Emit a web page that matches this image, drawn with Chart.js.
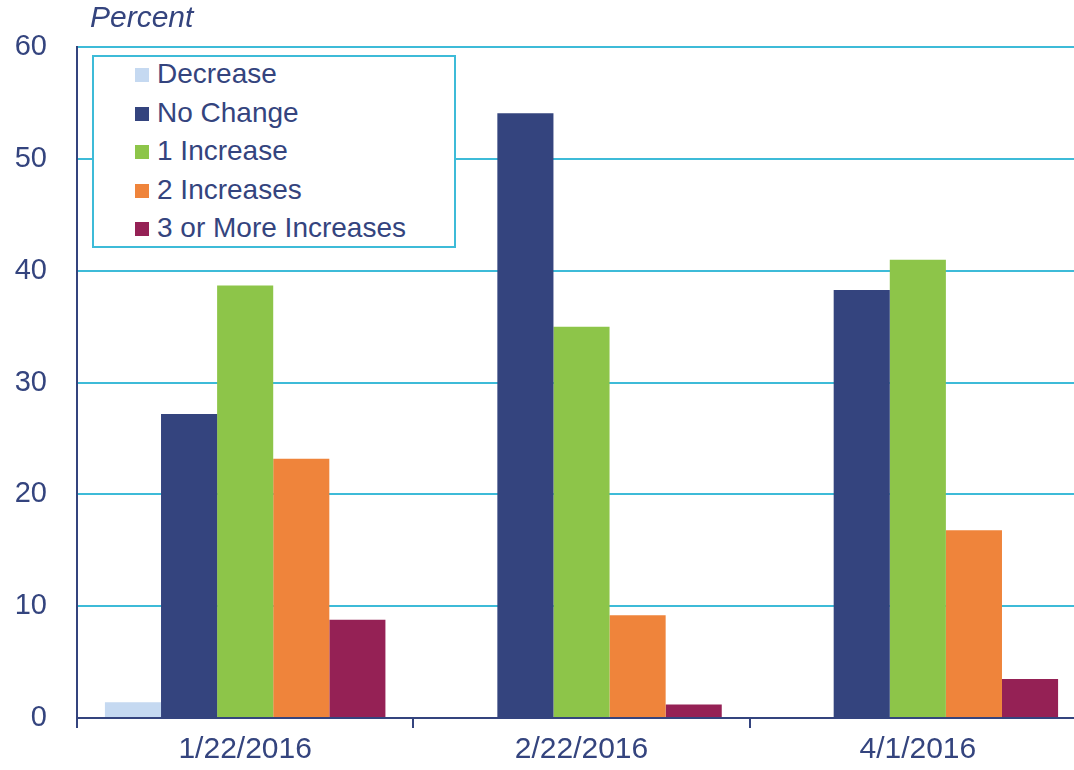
<!DOCTYPE html>
<html>
<head>
<meta charset="utf-8">
<script src="https://cdn.jsdelivr.net/npm/chart.js@4"></script>
<style>
  body { margin: 0; overflow: hidden; background: #fff; font-family: "Liberation Sans", Arial, sans-serif; }
  #wrap { position: relative; width: 1086px; height: 770px; }
  #title { position: absolute; left: 90px; top: 0px; font-size: 30px; font-style: italic; color: #34447e; line-height: 34px; }
  #legend { position: absolute; left: 92px; top: 55px; width: 364px; height: 193px; border: 2px solid #3dbbd8; background: #fff; box-sizing: border-box; }
  .item { position: absolute; left: 41px; font-size: 28px; color: #34447e; line-height: 32px; height: 32px; white-space: nowrap; }
  .item span.sw { display: inline-block; width: 14px; height: 14px; margin-right: 8px; vertical-align: 1px; }
</style>
</head>
<body>
<div id="wrap">
  <canvas id="myBarChart" width="1086" height="770"></canvas>
  <div id="title">Percent</div>
  <div id="legend"></div>
</div>
<script>
const categories = ["1/22/2016", "2/22/2016", "4/1/2016"];
const seriesNames = ["Decrease", "No Change", "1 Increase", "2 Increases", "3 or More Increases"];
const decrease = [1.4, 0, 0];
const noChange = [27.2, 54.1, 38.3];
const oneIncrease = [38.7, 35.0, 41.0];
const twoIncreases = [23.2, 9.2, 16.8];
const threeOrMore = [8.8, 1.2, 3.5];
const yTicks = [0, 10, 20, 30, 40, 50, 60];

const colors = ["#c5d9f1", "#34447e", "#8dc549", "#ef843b", "#952155"];
const seriesValues = [decrease, noChange, oneIncrease, twoIncreases, threeOrMore];

const navy = "#34447e";
const cyan = "#3dbbd8";

// legend as html so it can sit inside the plot area
const legendBox = document.getElementById("legend");
seriesNames.forEach((name, i) => {
  const d = document.createElement("div");
  d.className = "item";
  d.style.top = (1 + i * 38.5) + "px";
  d.innerHTML = '<span class="sw" style="background:' + colors[i] + '"></span>' + name;
  legendBox.appendChild(d);
});

const ctx1 = document.getElementById("myBarChart");

new Chart(ctx1, {
  type: "bar",
  data: {
    labels: categories,
    datasets: seriesNames.map((name, i) => ({
      label: name,
      data: seriesValues[i],
      backgroundColor: colors[i],
      borderWidth: 0,
      barPercentage: 1,
      categoryPercentage: 0.834,
    })),
  },
  options: {
    responsive: false,
    animation: false,
    layout: { padding: { top: 42, right: 0, left: 0, bottom: 0 } },
    plugins: {
      legend: { display: false },
      tooltip: { enabled: false },
    },
    scales: {
      x: {
        afterFit: (scale) => { scale.height = 52; },
        grid: {
          offset: true,
          drawOnChartArea: false,
          drawTicks: true,
          tickLength: 10,
          color: navy,
          lineWidth: 2,
        },
        border: { color: navy, width: 2 },
        ticks: {
          color: navy,
          padding: 4,
          font: { size: 30, family: "Liberation Sans, Arial" },
        },
      },
      y: {
        min: 0,
        max: 60,
        afterFit: (scale) => { scale.width = 77; },
        afterBuildTicks: (scale) => { scale.ticks = yTicks.map((v) => ({ value: v })); },
        grid: {
          color: (c) => (c.tick && c.tick.value === 0 ? "rgba(0,0,0,0)" : cyan),
          lineWidth: 2,
          drawTicks: false,
        },
        border: { color: navy, width: 2 },
        ticks: {
          color: navy,
          padding: 30,
          font: { size: 29, family: "Liberation Sans, Arial" },
        },
      },
    },
  },
});
</script>
</body>
</html>
